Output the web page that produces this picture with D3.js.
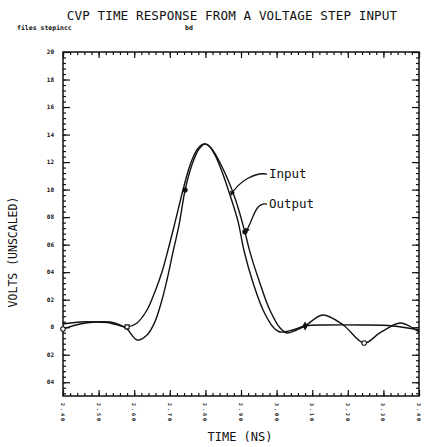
<!DOCTYPE html>
<html>
<head>
<meta charset="utf-8">
<script src="https://cdn.jsdelivr.net/npm/d3@7"></script>
<style>
  body { margin: 0; background: #fff; }
  text { font-family: "DejaVu Sans Mono", monospace; fill: #111; }
</style>
</head>
<body>
<script>
// Size of the page
var width = 424;
var height = 447;

// Input pulse, time (ns) and volts
var inputTime = [2.400, 2.448, 2.490, 2.532, 2.580, 2.608, 2.636, 2.658, 2.678, 2.695, 2.715, 2.737, 2.757, 2.776, 2.793, 2.807, 2.827, 2.847, 2.869, 2.892, 2.908, 2.934, 2.962, 2.990, 3.010, 3.046, 3.080, 3.142, 3.234, 3.327, 3.400];
var inputVolts = [0.0023, 0.0038, 0.0038, 0.0031, 0.0002, 0.0031, 0.0125, 0.0256, 0.0401, 0.0561, 0.0765, 0.0997, 0.1179, 0.1288, 0.1331, 0.1324, 0.1251, 0.1128, 0.0961, 0.0765, 0.0561, 0.0321, 0.0125, 0.0002, -0.0035, -0.0020, 0.0009, 0.0016, 0.0016, 0.0009, -0.0020];

// Output pulse (delayed, with ringing)
var outputTime = [2.400, 2.448, 2.490, 2.532, 2.560, 2.580, 2.608, 2.636, 2.658, 2.678, 2.692, 2.709, 2.726, 2.743, 2.762, 2.782, 2.799, 2.816, 2.847, 2.883, 2.911, 2.925, 2.953, 2.981, 3.010, 3.029, 3.057, 3.080, 3.130, 3.187, 3.246, 3.290, 3.347, 3.383, 3.400];
var outputVolts = [-0.0013, 0.0023, 0.0038, 0.0038, 0.0016, -0.0013, -0.0093, -0.0057, 0.0038, 0.0198, 0.0343, 0.0547, 0.0743, 0.0997, 0.1179, 0.1295, 0.1331, 0.1302, 0.1164, 0.0939, 0.0692, 0.0547, 0.0321, 0.0125, -0.0006, -0.0042, -0.0020, 0.0009, 0.0089, 0.0016, -0.0115, -0.0042, 0.0031, -0.0006, -0.0035];

// Plot symbols placed on the curves
var inputMarkTimes = [2.580, 3.080];
var inputMarkShapes = ["square", "diamond"];
var outputMarkTimes = [2.400, 2.743, 2.911, 3.246];
var outputMarkShapes = ["circle", "dot", "dot", "circle"];

// Axis labels
var yTickValues = [0.20, 0.18, 0.16, 0.14, 0.12, 0.10, 0.08, 0.06, 0.04, 0.02, 0, -0.02, -0.04];
var yTickLabels = ["20", "18", "16", "14", "12", "10", "08", "06", "04", "02", "0", "02", "04"];
var xTickValues = [2.4, 2.5, 2.6, 2.7, 2.8, 2.9, 3.0, 3.1, 3.2, 3.3, 3.4];
var xTickLabels = ["2.40", "2.50", "2.60", "2.70", "2.80", "2.90", "3.00", "3.10", "3.20", "3.30", "3.40"];

// Callouts: label position in data units and the curve point they point to
var calloutNames = ["Input", "Output"];
var calloutTime = [2.973, 2.973];
var calloutVolts = [0.1113, 0.0895];
var calloutTarget = [2.869, 2.911];

var margin = {left: 63, right: 5, top: 52, bottom: 51};

var svg = d3.select('body').append('svg')
  .attr('width', width)
  .attr('height', height);

var x = d3.scaleLinear().domain([2.4, 3.4]).range([margin.left, width - margin.right]);
var y = d3.scaleLinear().domain([-0.05, 0.20]).range([height - margin.bottom, margin.top]);

// title and file tag
svg.append('text').attr('x', 232).attr('y', 20).attr('text-anchor', 'middle')
  .style('font-size', '12.6px').style('letter-spacing', '0.1px')
  .text('CVP TIME RESPONSE FROM A VOLTAGE STEP INPUT');
svg.append('text').attr('x', 17).attr('y', 30)
  .style('font-size', '6.5px').style('font-weight', 'bold')
  .text('files stepincc');
svg.append('text').attr('x', 185).attr('y', 30)
  .style('font-size', '6.5px').style('font-weight', 'bold')
  .text('bd');

// frame
svg.append('rect')
  .attr('x', x.range()[0]).attr('y', y.range()[1])
  .attr('width', x.range()[1] - x.range()[0])
  .attr('height', y.range()[0] - y.range()[1])
  .attr('fill', 'none').attr('stroke', '#111').attr('stroke-width', 1.5);

// ticks on all four sides, pointing inward
var yMinor = d3.range(-0.048, 0.2, 0.004);
var xMinor = d3.range(2.4, 3.4001, 0.02);
function addTicks(axisGen, tr, vals, len) {
  svg.append('g').attr('transform', tr)
    .call(axisGen.tickValues(vals).tickSize(len).tickFormat(''))
    .call(g => g.select('.domain').remove())
    .selectAll('line').attr('stroke', '#111').attr('stroke-width', 1.2);
}
addTicks(d3.axisRight(y), 'translate(' + x.range()[0] + ',0)', yMinor, 3);
addTicks(d3.axisRight(y), 'translate(' + x.range()[0] + ',0)', yTickValues, 7);
addTicks(d3.axisLeft(y), 'translate(' + x.range()[1] + ',0)', yMinor, 3);
addTicks(d3.axisLeft(y), 'translate(' + x.range()[1] + ',0)', yTickValues, 7);
addTicks(d3.axisBottom(x), 'translate(0,' + y.range()[1] + ')', xMinor, 3);
addTicks(d3.axisBottom(x), 'translate(0,' + y.range()[1] + ')', xTickValues, 6);
addTicks(d3.axisTop(x), 'translate(0,' + y.range()[0] + ')', xMinor, 3);
addTicks(d3.axisTop(x), 'translate(0,' + y.range()[0] + ')', xTickValues, 6);

// y labels
svg.selectAll('.ylab').data(yTickValues).enter().append('text')
  .attr('class', 'ylab')
  .attr('x', 54).attr('y', d => y(d) + 2)
  .attr('text-anchor', 'end')
  .style('font-size', '6px').style('font-weight', 'bold')
  .text((d, i) => yTickLabels[i]);

// x labels, written sideways
svg.selectAll('.xlab').data(xTickValues).enter().append('text')
  .attr('class', 'xlab')
  .attr('transform', d => 'translate(' + (x(d) - 2) + ',' + (y.range()[0] + 7) + ') rotate(90)')
  .style('font-size', '5px').style('font-weight', 'bold').style('letter-spacing', '2px')
  .text((d, i) => xTickLabels[i]);

// axis titles
svg.append('text').attr('x', 240).attr('y', 441).attr('text-anchor', 'middle')
  .style('font-size', '12px')
  .text('TIME (NS)');
svg.append('text').attr('transform', 'translate(17,252) rotate(-90)').attr('text-anchor', 'middle')
  .style('font-size', '11.5px')
  .text('VOLTS (UNSCALED)');

// curves
var inputData = inputTime.map((t, i) => ({t: t, v: inputVolts[i]}));
var outputData = outputTime.map((t, i) => ({t: t, v: outputVolts[i]}));
var line = d3.line().x(d => x(d.t)).y(d => y(d.v)).curve(d3.curveCatmullRom.alpha(0.5));

svg.append('path').datum(inputData).attr('d', line)
  .attr('fill', 'none').attr('stroke', '#111').attr('stroke-width', 1.4);
svg.append('path').datum(outputData).attr('d', line)
  .attr('fill', 'none').attr('stroke', '#111').attr('stroke-width', 1.4);

// symbols
function findPoint(data, t) {
  return data.reduce((a, b) => Math.abs(b.t - t) < Math.abs(a.t - t) ? b : a);
}
var symbolType = {square: d3.symbolSquare, diamond: d3.symbolDiamond, circle: d3.symbolCircle, dot: d3.symbolCircle};
function addMarks(data, times, shapes) {
  times.forEach(function(t, i) {
    var p = findPoint(data, t);
    var filled = shapes[i] === 'dot' || shapes[i] === 'diamond';
    svg.append('path')
      .attr('d', d3.symbol().type(symbolType[shapes[i]]).size(filled ? 14 : 16)())
      .attr('transform', 'translate(' + x(p.t) + ',' + y(p.v) + ')')
      .attr('fill', filled ? '#111' : '#fff').attr('stroke', '#111').attr('stroke-width', 1.1);
  });
}
addMarks(inputData, inputMarkTimes, inputMarkShapes);
addMarks(outputData, outputMarkTimes, outputMarkShapes);

// callouts
var seriesData = [inputData, outputData];
calloutNames.forEach(function(name, i) {
  var lx = x(calloutTime[i]), ly = y(calloutVolts[i]);
  var p = findPoint(seriesData[i], calloutTarget[i]);
  var tx = x(p.t) + 1, ty = y(p.v);
  svg.append('text').attr('x', lx + 2).attr('y', ly + 4)
    .style('font-size', '12.5px')
    .text(name);
  svg.append('path')
    .attr('d', 'M' + lx + ',' + ly + ' C' + (lx - 12) + ',' + (ly - 2) + ' ' + (tx + 8) + ',' + (ty - 14) + ' ' + tx + ',' + ty)
    .attr('fill', 'none').attr('stroke', '#111').attr('stroke-width', 1.3);
  svg.append('path')
    .attr('d', d3.symbol().type(d3.symbolTriangle).size(12)())
    .attr('transform', 'translate(' + (tx + 1) + ',' + (ty - 2) + ') rotate(200)')
    .attr('fill', '#111');
});
</script>
</body>
</html>
